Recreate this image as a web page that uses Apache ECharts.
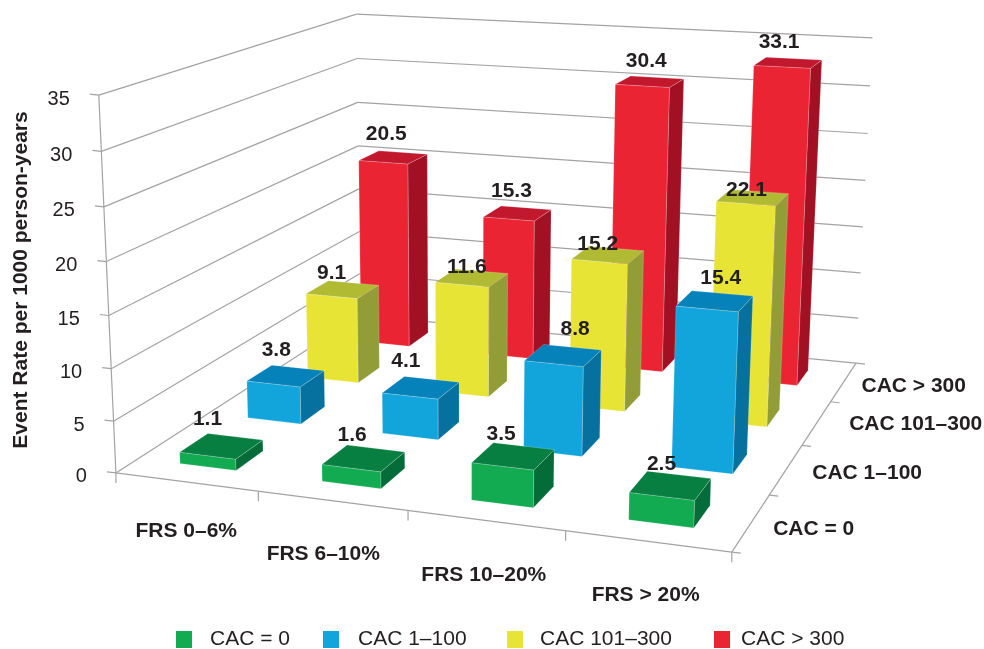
<!DOCTYPE html>
<html>
<head>
<meta charset="utf-8">
<title>Event rate by FRS and CAC</title>
<style>html,body{margin:0;padding:0;background:#fff}#chart{width:984px;height:649px}</style>
<script src="https://cdn.jsdelivr.net/npm/echarts@6/dist/echarts.min.js"></script>
</head>
<body>
<div id="chart"></div>
<script>
// Chart data
const frsLabels = ['FRS 0–6%', 'FRS 6–10%', 'FRS 10–20%', 'FRS > 20%'];
const cacLabels = ['CAC = 0', 'CAC 1–100', 'CAC 101–300', 'CAC > 300'];
const yTicks = [0, 5, 10, 15, 20, 25, 30, 35];
const cacZero = [1.1, 1.6, 3.5, 2.5];
const cac1to100 = [3.8, 4.1, 8.8, 15.4];
const cac101to300 = [9.1, 11.6, 15.2, 22.1];
const cacOver300 = [20.5, 15.3, 30.4, 33.1];
const yMax = 35;

// Face colours per series: front, top, side
const palette = [
  { front: '#12AB52', top: '#067F41', side: '#046C38' },
  { front: '#11A5DB', top: '#0582B9', side: '#06709F' },
  { front: '#E8E435', top: '#B1BA33', side: '#929D38' },
  { front: '#EB2433', top: '#C2182E', side: '#A11023' }
];

// Solve a 3x4 projective camera from scene anchors: [x, y, z] in 0..1 -> [px, py]
const anchors = [
  [[0, 0, 0], [116, 472]], [[0, 1, 0], [99, 95]],
  [[1, 0, 0], [730.5, 554]], [[1, 0, 1], [856, 361]],
  [[1, 1, 1], [873, 38]], [[0, 0, 1], [360, 317]], [[0, 1, 1], [357, 13]],
  [[0, 10 / 35, 0], [112, 368]], [[0, 20 / 35, 0], [106, 262]], [[0, 30 / 35, 0], [101, 152]],
  [[1, 0, .25], [769.5, 495]], [[1, 0, .5], [803, 445]], [[1, 0, .75], [832, 401]],
  [[.25, 0, 0], [258, 491]],
  [[1, 10 / 35, 1], [860, 274]], [[1, 20 / 35, 1], [864, 181]]
];
function solveCamera(points) {
  const n = 11, A = [...Array(n)].map(() => Array(n + 1).fill(0));
  const add = (row, rhs) => {
    for (let i = 0; i < n; i++) {
      for (let j = 0; j < n; j++) A[i][j] += row[i] * row[j];
      A[i][n] += row[i] * rhs;
    }
  };
  points.forEach(([[x, y, z], [u, v]]) => {
    const a = u / 1000, b = v / 1000;
    add([x, y, z, 1, 0, 0, 0, 0, -a * x, -a * y, -a * z], a);
    add([0, 0, 0, 0, x, y, z, 1, -b * x, -b * y, -b * z], b);
  });
  for (let c = 0; c < n; c++) {
    let p = c;
    for (let r = c + 1; r < n; r++) if (Math.abs(A[r][c]) > Math.abs(A[p][c])) p = r;
    [A[c], A[p]] = [A[p], A[c]];
    for (let r = 0; r < n; r++) {
      if (r === c) continue;
      const f = A[r][c] / A[c][c];
      for (let k = c; k <= n; k++) A[r][k] -= f * A[c][k];
    }
  }
  return A.map((row, i) => row[n] / row[i]);
}
const cam = solveCamera(anchors);
function project(x, y, z) {
  const w = cam[8] * x + cam[9] * y + cam[10] * z + 1;
  return [
    1000 * (cam[0] * x + cam[1] * y + cam[2] * z + cam[3]) / w,
    1000 * (cam[4] * x + cam[5] * y + cam[6] * z + cam[7]) / w
  ];
}

// Fractions along the hidden cartesian axes feed the scene coordinates
const fracX = (cs, px) => (px - cs.x) / cs.width;
const fracY = (cs, py) => (cs.y + cs.height - py) / cs.height;

const BAR_X = 0.4 / 4, BAR_Z = 0.4 / 4;
const FONT = '"Liberation Sans", Arial, sans-serif';
const BOLD_21 = 'bold 21px ' + FONT;
const TEXT_COLOR = '#231F20';

function barBox(params, api, depthIndex) {
  const cs = params.coordSys;
  const top = api.coord([api.value(0), api.value(1)]);
  const xc = fracX(cs, top[0]), yf = fracY(cs, top[1]);
  const zc = (depthIndex + 0.5) / 4;
  return {
    xc, yf, zc,
    x0: xc - BAR_X / 2, x1: xc + BAR_X / 2,
    z0: zc - BAR_Z / 2, z1: zc + BAR_Z / 2
  };
}

function barSeries(name, values, depthIndex) {
  const colors = palette[depthIndex];
  return {
    name,
    type: 'custom',
    coordinateSystem: 'cartesian2d',
    z: 14 - depthIndex,
    itemStyle: { color: colors.front },
    encode: { x: 0, y: 1 },
    silent: true,
    data: values.map((v, i) => [i, v]),
    renderItem(params, api) {
      const b = barBox(params, api, depthIndex);
      const face = (pts, fill) => ({
        type: 'polygon',
        shape: { points: pts },
        style: { fill, stroke: 'rgba(255,255,255,0.28)', lineWidth: 0.7 }
      });
      const P = project;
      return {
        type: 'group',
        children: [
          face([P(b.x0, b.yf, b.z0), P(b.x1, b.yf, b.z0), P(b.x1, 0, b.z0), P(b.x0, 0, b.z0)], colors.front),
          face([P(b.x1, b.yf, b.z0), P(b.x1, b.yf, b.z1), P(b.x1, 0, b.z1), P(b.x1, 0, b.z0)], colors.side),
          face([P(b.x0, b.yf, b.z0), P(b.x1, b.yf, b.z0), P(b.x1, b.yf, b.z1), P(b.x0, b.yf, b.z1)], colors.top)
        ]
      };
    }
  };
}

// Pixel offsets of each value label from the centre of its bar's top face
const labelOffsets = [
  [[-14, -27], [-11.5, -23], [-12, -22], [-9, -21]],
  [[-9.5, -26], [-15, -26], [12, -26], [6, -23]],
  [[-11, -16], [-5, -11], [-10, -11], [-6, -7]],
  [[-7, -23], [-6, -22], [-3.5, -20], [-9, -20]]
];

function valueLabelSeries(values, depthIndex) {
  return {
    type: 'custom',
    coordinateSystem: 'cartesian2d',
    z: 30,
    silent: true,
    encode: { x: 0, y: 1 },
    data: values.map((v, i) => [i, v]),
    renderItem(params, api) {
      const b = barBox(params, api, depthIndex);
      const c = project(b.xc, b.yf, b.zc);
      const off = labelOffsets[depthIndex][api.value(0)];
      return {
        type: 'text',
        style: {
          text: api.value(1).toFixed(1), x: c[0] + off[0], y: c[1] + off[1],
          font: BOLD_21,
          fill: TEXT_COLOR, align: 'center', verticalAlign: 'middle'
        }
      };
    }
  };
}

const AXIS_GRAY = '#A3A3A3';
const seg = (a, b) => ({
  type: 'line', shape: { x1: a[0], y1: a[1], x2: b[0], y2: b[1] },
  style: { stroke: AXIS_GRAY, lineWidth: 1.2 }
});

// Wall gridlines with their value ticks and labels
const gridSeries = {
  type: 'custom',
  coordinateSystem: 'cartesian2d',
  z: 1,
  silent: true,
  encode: { x: 0, y: 1 },
  data: yTicks.map(t => [0, t]),
  renderItem(params, api) {
    const yf = fracY(params.coordSys, api.coord([0, api.value(1)])[1]);
    const a = project(0, yf, 0), b = project(0, yf, 1), c = project(1, yf, 1);
    return {
      type: 'group',
      children: [
        seg(a, b), seg(b, c),
        seg(a, [a[0] - 9, a[1] - 1]),
        {
          type: 'text',
          style: {
            text: String(api.value(1)), x: a[0] - 29, y: a[1] + 4,
            font: '20px ' + FONT,
            fill: TEXT_COLOR, align: 'right', verticalAlign: 'middle'
          }
        }
      ]
    };
  }
};

// Floor edges and the vertical wall edge
const frameSeries = {
  type: 'custom',
  coordinateSystem: 'cartesian2d',
  z: 1,
  silent: true,
  encode: { x: 0, y: 1 },
  data: [[0, 0]],
  renderItem() {
    return {
      type: 'group',
      children: [
        seg(project(0, 0, 0), project(1, 0, 0)),
        seg(project(1, 0, 0), project(1, 0, 1)),
        seg(project(0, 0, 0), project(0, 1, 0))
      ]
    };
  }
};

const frsNudge = [[0, 49], [-9, 53], [-2, 55], [-2, 54]];
const frsAxisSeries = {
  type: 'custom',
  coordinateSystem: 'cartesian2d',
  z: 1,
  silent: true,
  encode: { x: 0, y: 1 },
  data: frsLabels.map((_, i) => [i, 0]),
  renderItem(params, api) {
    const cs = params.coordSys, i = api.value(0);
    const xc = fracX(cs, api.coord([i, 0])[0]);
    const half = api.size([1, 0])[0] / 2 / cs.width;
    const mid = project(xc, 0, 0);
    const ticks = [];
    const t = project(xc - half, 0, 0);
    ticks.push(seg(t, [t[0], t[1] + 10]));
    if (i === frsLabels.length - 1) {
      const e = project(1, 0, 0);
      ticks.push(seg(e, [e[0], e[1] + 10]));
    }
    return {
      type: 'group',
      children: ticks.concat({
        type: 'text',
        style: {
          text: frsLabels[i], x: mid[0] + frsNudge[i][0], y: mid[1] + frsNudge[i][1],
          font: BOLD_21,
          fill: TEXT_COLOR, align: 'center', verticalAlign: 'middle'
        }
      })
    };
  }
};

const cacNudge = [[62.5, 7], [81, 4], [99, 1], [70, 4]];
const cacAxisSeries = {
  type: 'custom',
  coordinateSystem: 'cartesian2d',
  z: 1,
  silent: true,
  encode: { x: 0, y: 1 },
  data: cacLabels.map((_, i) => [i, 0]),
  renderItem(params, api) {
    const i = api.value(0), n = cacLabels.length;
    const mid = project(1, 0, (i + 0.5) / n);
    const t = project(1, 0, i / n);
    const ticks = [seg(t, [t[0] + 9, t[1] + 1])];
    if (i === n - 1) {
      const e = project(1, 0, 1);
      ticks.push(seg(e, [e[0] + 9, e[1] + 1]));
    }
    return {
      type: 'group',
      children: ticks.concat({
        type: 'text',
        style: {
          text: cacLabels[i], x: mid[0] + cacNudge[i][0], y: mid[1] + cacNudge[i][1],
          font: BOLD_21,
          fill: TEXT_COLOR, align: 'center', verticalAlign: 'middle'
        }
      })
    };
  }
};

const seriesValues = [cacZero, cac1to100, cac101to300, cacOver300];
const legendLefts = [176, 323, 507, 714];
const legendGaps = [13, 14, 12, 6];

const chart = echarts.init(document.getElementById('chart'), null, { renderer: 'canvas' });
chart.setOption({
  animation: false,
  backgroundColor: '#fff',
  grid: { left: 35, right: 100, top: 108, height: 344 },
  xAxis: {
    type: 'category', data: frsLabels, show: false
  },
  yAxis: {
    type: 'value', min: 0, max: yMax, interval: 5,
    axisLine: { show: false }, axisTick: { show: false },
    axisLabel: { show: false }, splitLine: { show: false },
    name: 'Event Rate per 1000 person-years',
    nameLocation: 'middle', nameGap: 3,
    nameTextStyle: { fontWeight: 'bold', fontSize: 21, fontFamily: FONT, color: TEXT_COLOR }
  },
  legend: cacLabels.map((name, i) => ({
    data: [name],
    left: legendLefts[i],
    top: 629,
    padding: 0,
    itemWidth: 16,
    itemHeight: 17,
    icon: 'rect',
    selectedMode: false,
    textStyle: {
      fontSize: 21, fontFamily: FONT, color: TEXT_COLOR,
      padding: [0, 0, 0, legendGaps[i]]
    }
  })),
  series: [gridSeries, frameSeries, frsAxisSeries, cacAxisSeries]
    .concat(cacLabels.map((name, i) => barSeries(name, seriesValues[i], i)))
    .concat(seriesValues.map((v, i) => valueLabelSeries(v, i)))
});
</script>
</body>
</html>
